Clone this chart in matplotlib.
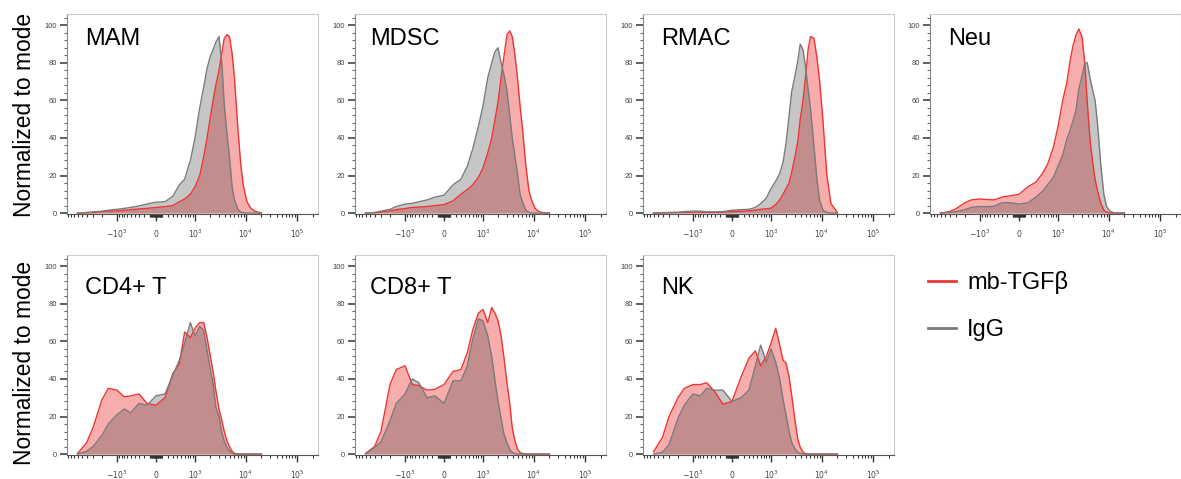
import matplotlib
matplotlib.use('Agg')
import matplotlib.pyplot as plt
from matplotlib.lines import Line2D
from matplotlib.ticker import MultipleLocator

plt.rcParams['font.family'] = ['Liberation Sans', 'DejaVu Sans']

fl = [-6000, -4000, -3000, -2000, -1500, -1000, -700, -500, -300, -150, 0, 150, 300, 450,
      600, 800, 1000, 1250, 1500, 1750, 2000, 2300, 2600, 3000, 3400, 3800, 4300, 4800,
      5400, 6000, 7000, 8000, 9000, 10500, 12500, 15000, 20000]

names = ['MAM', 'MDSC', 'RMAC', 'Neu', 'CD4+ T', 'CD8+ T', 'NK']

mam_red = [0, 0.1, 0.3, 0.8, 1, 1.2, 1.5, 1.8, 2.2, 2.5, 3, 3.4, 4, 6, 7.5, 10, 14, 20, 30, 40,
           50, 60, 68, 76, 85, 93, 95, 94, 85, 72, 45, 25, 14, 6, 2.5, 1, 0]
mam_igg = [0, 0.3, 0.6, 1, 1.5, 2, 2.5, 3, 3.8, 4.8, 5.8, 6, 9, 15, 18, 28, 40, 56, 67, 77,
           83, 87, 91, 94, 80, 58, 42, 30, 14, 7, 2, 0.5, 0.2, 0, 0, 0, 0]
mdsc_red = [0, 0.2, 0.5, 1.2, 1.8, 2.4, 3, 3.2, 3.5, 4, 4.5, 6.5, 10, 12.5, 15, 19, 24, 32, 40, 50,
            59, 72, 83, 95, 97, 94, 84, 72, 57, 45, 25, 12, 7, 2.5, 0.8, 0.2, 0]
mdsc_igg = [0, 0.3, 1, 2, 3.5, 4.8, 5.2, 6, 7, 8.5, 9.5, 15, 18, 25, 34, 46, 57, 72, 80, 86,
            88, 80, 74, 65, 52, 40, 30, 21, 10, 6, 1.5, 0.4, 0, 0, 0, 0, 0]
rmac_red = [0, 0.1, 0.2, 0.3, 0.4, 0.5, 0.5, 0.4, 0.4, 0.5, 0.8, 1, 1.2, 1.6, 2, 2.3, 2.6, 4.5, 7, 10,
            13, 16, 22, 30, 38, 50, 60, 72, 87, 94, 93, 83, 71, 49, 20, 5, 0.3]
rmac_igg = [0, 0.2, 0.3, 0.4, 0.8, 1, 1, 0.7, 0.6, 0.8, 1.5, 1.8, 2, 3, 5, 8, 13, 17, 21, 27,
            37, 52, 65, 73, 81, 90, 87, 78, 66, 56, 36, 18, 7, 1.5, 0.3, 0, 0]
neu_red = [0, 0.8, 2.3, 5.5, 7, 7.5, 7.2, 7, 8.5, 9.2, 10, 14, 16.5, 21, 26, 35, 46, 60, 69, 81,
           89, 95, 98, 94, 80, 59, 39, 28, 18, 12, 5, 1.5, 0.5, 0, 0, 0, 0]
neu_igg = [0, 0.3, 0.8, 1.8, 3, 3.5, 3.4, 3.6, 5.5, 5.5, 4.8, 5.5, 8.5, 11.5, 15, 19, 25, 31, 39, 44,
           49, 55, 66, 73, 80, 80, 72, 66, 60, 48, 25, 10, 3.5, 1, 0.2, 0, 0]
cd4_red = [0.3, 6, 14, 29, 35, 34, 30.5, 31, 32, 27, 26, 30, 43, 48, 65, 62, 67, 70, 70, 62,
           53, 44, 34, 24, 18, 12, 7, 4, 1.5, 0.4, 0, 0, 0, 0, 0, 0, 0]
cd4_igg = [0, 1.5, 4, 10, 16, 21, 24, 22, 27, 26, 31, 32, 42, 50, 59, 70, 63, 68, 66, 55,
           46, 37, 25, 20, 11.5, 7, 3.5, 1.8, 0.5, 0, 0, 0, 0, 0, 0, 0, 0]
cd8_red = [0.3, 4, 12, 37, 45, 47, 37, 36.5, 34, 34.5, 37, 44, 45, 54, 66, 75, 77, 70, 78, 75,
           71, 63, 52, 38, 27, 14, 7, 2.5, 0.8, 0.3, 0, 0, 0, 0, 0, 0, 0]
cd8_igg = [0, 3.5, 6.5, 17.7, 27, 32, 40, 38, 30, 31, 27, 39, 39, 47, 61, 72, 71, 63, 52, 39,
           28, 19, 11, 6, 2.5, 1, 0.3, 0, 0, 0, 0, 0, 0, 0, 0, 0, 0]
nk_red = [1.2, 9, 20, 30, 35, 37, 37, 38, 33, 26.6, 28, 41, 51, 55, 47, 52, 59, 67, 58, 50,
          48.5, 41, 31, 18, 8, 3.5, 1, 0.3, 0, 0, 0, 0, 0, 0, 0, 0, 0]
nk_igg = [0, 1, 5, 19, 26, 32, 31, 35, 34, 34, 28, 30, 34, 47, 58, 49, 56, 49, 40, 29,
          21, 12, 6, 2.7, 1, 0.3, 0, 0, 0, 0, 0, 0, 0, 0, 0, 0, 0]

red_series = [mam_red, mdsc_red, rmac_red, neu_red, cd4_red, cd8_red, nk_red]
igg_series = [mam_igg, mdsc_igg, rmac_igg, neu_igg, cd4_igg, cd8_igg, nk_igg]

major_ticks = [-1000, 0, 1000, 10000, 100000]
major_labels = ['$-10^{3}$', '$0$', '$10^{3}$', '$10^{4}$', '$10^{5}$']
minor_ticks = []
for dec in [10, 100, 1000]:
    for k in range(2, 10) if dec == 1000 else range(1, 10):
        minor_ticks.append(-k * dec)
for dec in [10, 100, 1000, 10000]:
    for k in range(1, 10) if dec < 1000 else range(2, 10):
        minor_ticks.append(k * dec)
minor_ticks.append(200000)

RED = '#ef3434'
GRAY = '#444444'

fig = plt.figure(figsize=(11.81, 4.79), dpi=100)
lefts = [67, 355, 643, 930]
rows = [(214, 200), (455, 200)]
title_x = [0.072, 0.06, 0.074, 0.072]

for i, name in enumerate(names):
    r, c = divmod(i, 4)
    bottom, h = rows[r]
    ax = fig.add_axes([lefts[c] / 1181, (479 - bottom) / 479, 251 / 1181, h / 479])
    ax.set_xscale('asinh', linear_width=362)
    ax.fill_between(fl, red_series[i], color=RED, alpha=0.4, lw=0)
    ax.fill_between(fl, igg_series[i], color=GRAY, alpha=0.3, lw=0)
    ax.plot(fl, red_series[i], color=RED, lw=1.0)
    ax.plot(fl, igg_series[i], color='#7a7a7a', lw=1.0)
    ax.set_xticks(major_ticks)
    ax.set_xticklabels(major_labels)
    ax.set_xticks(minor_ticks, minor=True)
    ax.set_xlim(-9600, 250000)
    ax.set_ylim(-0.5, 106)
    ax.yaxis.set_major_locator(MultipleLocator(20))
    ax.yaxis.set_minor_locator(MultipleLocator(4))
    ax.tick_params(axis='x', which='major', length=5, width=1, color='#333333',
                   pad=5, labelsize=5.5, labelcolor='#444444')
    ax.tick_params(axis='x', which='minor', length=2.5, width=0.8, color='#333333')
    ax.tick_params(axis='y', which='major', length=5, width=1.2, color='#444444',
                   pad=2, labelsize=5.5, labelcolor='#444444')
    ax.tick_params(axis='y', which='minor', length=2, width=0.8, color='#666666')
    for s in ['top', 'right']:
        ax.spines[s].set_color('#cccccc')
        ax.spines[s].set_linewidth(0.8)
    ax.spines['left'].set_color('#888888')
    ax.spines['bottom'].set_color('#555555')
    ty = 0.93 if r == 0 else 0.89
    ax.text(title_x[c], ty, name, transform=ax.transAxes, fontsize=17, va='top', ha='left')

fig.text(25 / 1181, 1 - 115 / 479, 'Normalized to mode', rotation=90,
         ha='center', va='center', fontsize=16.4)
fig.text(25 / 1181, 1 - 363 / 479, 'Normalized to mode', rotation=90,
         ha='center', va='center', fontsize=16.4)

handles = [Line2D([], [], color=RED, lw=2), Line2D([], [], color='#7a7a7a', lw=2)]
fig.legend(handles, ['mb-TGF\u03b2', 'IgG'], loc='upper left',
           bbox_to_anchor=(928 / 1181, 1 - 271 / 479), frameon=False, fontsize=17,
           handlelength=1.2, handletextpad=0.45, labelspacing=1.05, borderpad=0,
           borderaxespad=0)

fig.savefig('out.png', dpi=100)
